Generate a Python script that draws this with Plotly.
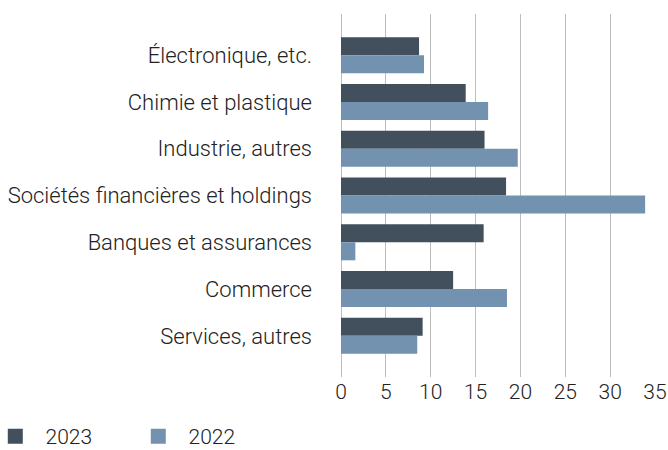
import plotly.graph_objects as go

categories = [
    "Électronique, etc.",
    "Chimie et plastique",
    "Industrie, autres",
    "Sociétés financières et holdings",
    "Banques et assurances",
    "Commerce",
    "Services, autres",
]
values_2023 = [8.7, 13.9, 16.0, 18.4, 15.9, 12.5, 9.1]
values_2022 = [9.25, 16.4, 19.7, 33.9, 1.6, 18.5, 8.5]
x_ticks = [0, 5, 10, 15, 20, 25, 30, 35]
series_names = ["2023", "2022"]

DARK = "#424f5c"
LIGHT = "#7292af"
FONT = "Roboto"
NB = "\u00a0\u00a0"

fig = go.Figure()
for name, vals, col in [(series_names[0], values_2023, DARK), (series_names[1], values_2022, LIGHT)]:
    fig.add_trace(go.Bar(y=categories, x=vals, orientation="h", name=name,
                         marker=dict(color=col, line=dict(width=0)),
                         showlegend=False, legendgroup=name))
# legend entries with larger square swatches
for name, col in [(series_names[0], DARK), (series_names[1], LIGHT)]:
    fig.add_trace(go.Scatter(x=[None], y=[None], mode="markers", name=NB + name,
                             legendgroup=name,
                             marker=dict(symbol="square", size=15, color=col,
                                         line=dict(width=0)),
                             hoverinfo="skip"))

fig.update_layout(
    width=668, height=450,
    margin=dict(l=341, r=13, t=14, b=73, autoexpand=False),
    paper_bgcolor="white", plot_bgcolor="white",
    barmode="group", bargap=0.23, bargroupgap=0,
    font=dict(family=FONT, size=21, color="#222222", weight=300),
    showlegend=True,
    legend=dict(orientation="h", x=-1.101, xanchor="left", y=-0.164, yanchor="middle",
                font=dict(size=21, color="#222222"), traceorder="normal",
                entrywidth=98, entrywidthmode="pixels"),
    xaxis=dict(range=[0, 35], tickvals=x_ticks, showgrid=True, gridcolor="#bdbdbd",
               gridwidth=1, zeroline=True, zerolinecolor="#bdbdbd", zerolinewidth=1,
               showline=False, ticks="", tickfont=dict(size=21, color="#222222"),
               automargin=False, fixedrange=True),
    yaxis=dict(range=[6.88, -0.88], showgrid=False, zeroline=False, showline=False,
               ticks="", ticklabelstandoff=28, tickfont=dict(size=22, color="#222222"),
               automargin=False, fixedrange=True),
)

fig.write_html("out.html", config={"displayModeBar": False},
               post_script="document.body.style.margin='0';document.body.style.padding='0';")
